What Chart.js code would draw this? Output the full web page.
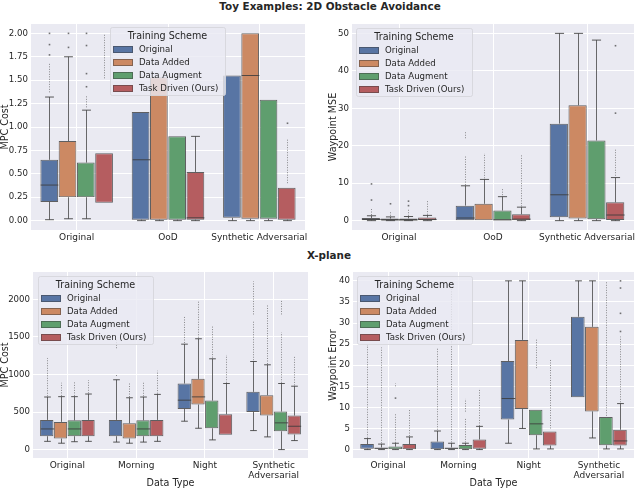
<!DOCTYPE html>
<html>
<head>
<meta charset="utf-8">
<script src="https://cdn.jsdelivr.net/npm/chart.js@4.4.1/dist/chart.umd.min.js"></script>
<style>
  html, body { margin: 0; padding: 0; background: #fff; }
  #wrap { position: relative; width: 640px; height: 489px; overflow: hidden; font-family: "DejaVu Sans", sans-serif; }
  canvas { position: absolute; }
  .ttl { position: absolute; font-weight: bold; font-size: 10.4px; color: #262626; white-space: nowrap; transform: translateX(-50%); }
</style>
</head>
<body>
<div id="wrap">
  <div class="ttl" style="left:330px;top:0px">Toy Examples: 2D Obstacle Avoidance</div>
  <div class="ttl" style="left:329px;top:249px">X-plane</div>
  <canvas id="toyMpc" width="320" height="232" style="left:0;top:14px"></canvas>
  <canvas id="toyWaypoint" width="320" height="232" style="left:320px;top:14px"></canvas>
  <canvas id="xplaneMpc" width="320" height="227" style="left:0;top:262px"></canvas>
  <canvas id="xplaneWaypoint" width="320" height="227" style="left:320px;top:262px"></canvas>
</div>
<script>
// Training schemes (hue) and categories
const schemes = ['Original', 'Data Added', 'Data Augment', 'Task Driven (Ours)'];
const toyCategories = ['Original', 'OoD', 'Synthetic Adversarial'];
const xplaneCategories = ['Original', 'Morning', 'Night', ['Synthetic', 'Adversarial']];

// Tick values
const toyMpcTicks = [0, 0.25, 0.5, 0.75, 1.0, 1.25, 1.5, 1.75, 2.0];
const toyWaypointTicks = [0, 10, 20, 30, 40, 50];
const xplaneMpcTicks = [0, 500, 1000, 1500, 2000];
const xplaneWaypointTicks = [0, 5, 10, 15, 20, 25, 30, 35, 40];

// Box stats: per scheme, per category
// [whiskerLow, q1, median, q3, whiskerHigh]
const toyMpcStats = [
  [[0.01, 0.20, 0.38, 0.65, 1.32], [0.0, 0.01, 0.65, 1.16, 1.16], [0.0, 0.03, 1.55, 1.55, 1.55]],
  [[0.02, 0.25, 0.25, 0.85, 1.75], [0.0, 0.01, 0.01, 1.53, 1.53], [0.0, 0.02, 1.55, 2.0, 2.0]],
  [[0.02, 0.25, 0.25, 0.62, 1.18], [0.0, 0.01, 0.01, 0.90, 0.90], [0.0, 0.02, 0.02, 1.29, 1.29]],
  [[0.19, 0.19, 0.19, 0.72, 0.72], [0.0, 0.01, 0.03, 0.52, 0.90], [0.0, 0.01, 0.01, 0.35, 0.35]],
];
// Outliers: [from, to] runs of dense points, or [value] single points
const toyMpcFliers = [
  [[[1.37, 1.68], [1.77], [1.88], [2.0]], [], []],
  [[[1.85], [2.0]], [], []],
  [[[1.21, 1.33], [1.43], [1.57], [1.87], [2.0]], [], []],
  [[[1.52, 2.0]], [], [[0.40, 0.88], [1.04]]],
];

const toyWaypointStats = [
  [[0, 0.1, 0.3, 0.7, 1.3], [0, 0.0, 0.7, 4.0, 9.3], [0, 0.9, 6.9, 25.9, 50]],
  [[0, 0.05, 0.2, 0.55, 1.0], [0, 0.0, 0.0, 4.5, 11.0], [0, 0.6, 0.6, 30.8, 50]],
  [[0, 0.05, 0.2, 0.6, 1.1], [0, 0.0, 0.2, 2.7, 6.4], [0, 0.4, 0.4, 21.4, 48.2]],
  [[0, 0.1, 0.3, 0.85, 1.4], [0, 0.1, 0.4, 1.7, 3.6], [0, 0.2, 1.5, 4.9, 11.5]],
];
const toyWaypointFliers = [
  [[[1.5, 3.2], [5.5], [9.8]], [[9.5, 17.5], [22, 24]], []],
  [[[1.3, 2.6], [4.5]], [[11.3, 18]], []],
  [[[1.3, 3.2], [4.0], [5.2]], [[6.8, 8.5]], []],
  [[[1.6, 5.6]], [[3.8, 17.5]], [[12, 19.3], [28.7], [46.7]]],
];

const xplaneMpcStats = [
  [[110, 178, 275, 395, 700], [100, 178, 178, 395, 930], [378, 542, 658, 880, 1404], [253, 502, 502, 769, 1173]],
  [[85, 147, 147, 369, 705], [85, 147, 147, 350, 690], [284, 600, 702, 942, 1476], [169, 453, 453, 724, 1129]],
  [[105, 178, 275, 390, 705], [100, 178, 275, 390, 700], [129, 284, 284, 653, 1209], [0, 244, 356, 507, 880]],
  [[110, 178, 178, 395, 740], [110, 178, 178, 395, 735], [196, 196, 196, 471, 880], [120, 200, 311, 453, 844]],
];
const xplaneMpcFliers = [
  [[[710, 1220]], [[980, 1000], [1350, 1480]], [[1420, 1780]], [[1190, 1720], [1800, 2240]]],
  [[[715, 890]], [[700, 890]], [[1490, 1970]], [[1140, 1930]]],
  [[[715, 910]], [[710, 910]], [[1225, 1640]], [[890, 1560], [1800, 2000]]],
  [[[750, 925]], [[745, 1050]], [[890, 1260]], [[855, 1240]]],
];

const xplaneWaypointStats = [
  [[0, 0.2, 0.2, 1.3, 2.6], [0, 0.1, 0.1, 1.9, 4.4], [1.5, 7.1, 12.1, 21.0, 40], [12.4, 12.4, 12.4, 31.5, 40]],
  [[0, 0.05, 0.05, 0.5, 1.3], [0, 0.05, 0.05, 0.5, 1.5], [5.0, 9.6, 9.6, 26, 40], [2.75, 9.05, 9.05, 29.1, 40]],
  [[0, 0.1, 0.1, 0.7, 1.5], [0, 0.1, 0.1, 1.1, 1.5], [0.15, 3.4, 6.1, 9.45, 9.45], [0.15, 1.0, 1.0, 7.7, 7.7]],
  [[0, 0.1, 0.1, 1.3, 3.0], [0, 0.2, 0.2, 2.4, 5.5], [0.15, 0.95, 0.95, 4.3, 4.3], [0.15, 0.95, 2.05, 4.7, 10.9]],
];
const xplaneWaypointFliers = [
  [[[2.8, 25]], [[4.7, 24]], [], []],
  [[[1.5, 24.2]], [[1.7, 38]], [], []],
  [[[1.6, 8.5], [12.2], [15, 15.7]], [[1.7, 7.5], [9, 12]], [[19.3, 26.4]], [[8, 40]]],
  [[[3.2, 9.7]], [[5.6, 14.5]], [[5, 21.4]], [[11.2, 26.8], [28], [32.3], [38.3], [40]]],
];

// seaborn "deep" palette, desaturated like boxplot
const schemeColors = ['#5875a4', '#cc8963', '#5f9e6e', '#b55d60'];
const FONT = '"DejaVu Sans", sans-serif';
const TEXT = '#262626';

// Draws background, whiskers, outliers, medians and the in-axes legend
const boxPlotPlugin = {
  id: 'boxPlot',
  beforeDraw(chart) {
    const { ctx, chartArea: a } = chart;
    ctx.save();
    ctx.fillStyle = '#EAEAF2';
    ctx.fillRect(a.left, a.top, a.right - a.left, a.bottom - a.top);
    ctx.restore();
  },
  beforeDatasetsDraw(chart, args, opts) {
    const { ctx, chartArea: a, scales } = chart;
    const py = v => scales.y.getPixelForValue(v);
    ctx.save();
    ctx.beginPath();
    ctx.rect(a.left, a.top, a.right - a.left, a.bottom - a.top);
    ctx.clip();
    opts.stats.forEach((series, i) => {
      const meta = chart.getDatasetMeta(i);
      series.forEach((s, j) => {
        const bar = meta.data[j];
        const x = Math.round(bar.x) + 0.5;
        // outliers
        ctx.strokeStyle = 'rgba(70,70,70,0.6)';
        ctx.fillStyle = 'rgba(70,70,70,0.75)';
        ctx.lineWidth = 1;
        (opts.fliers[i][j] || []).forEach(f => {
          if (f.length === 1) {
            ctx.fillRect(x - 0.8, py(f[0]) - 0.8, 1.6, 1.6);
          } else {
            ctx.setLineDash([1, 1.5]);
            ctx.beginPath();
            ctx.moveTo(x, py(f[0]));
            ctx.lineTo(x, py(f[1]));
            ctx.stroke();
            ctx.setLineDash([]);
          }
        });
        // whiskers
        ctx.strokeStyle = 'rgba(70,70,70,0.8)';
        ctx.beginPath();
        if (s[4] > s[3]) { ctx.moveTo(x, py(s[3])); ctx.lineTo(x, py(s[4])); }
        if (s[0] < s[1]) { ctx.moveTo(x, py(s[1])); ctx.lineTo(x, py(s[0])); }
        ctx.stroke();
      });
    });
    ctx.restore();
  },
  afterDatasetsDraw(chart, args, opts) {
    const { ctx, scales } = chart;
    const py = v => scales.y.getPixelForValue(v);
    ctx.save();
    opts.stats.forEach((series, i) => {
      const meta = chart.getDatasetMeta(i);
      series.forEach((s, j) => {
        const bar = meta.data[j];
        const x = Math.round(bar.x) + 0.5;
        const w = bar.width;
        ctx.strokeStyle = 'rgba(60,60,60,0.85)';
        ctx.lineWidth = 1;
        ctx.beginPath();
        // caps
        if (s[4] > s[3]) { ctx.moveTo(x - w / 4, py(s[4])); ctx.lineTo(x + w / 4, py(s[4])); }
        if (s[0] < s[1]) { ctx.moveTo(x - w / 4, py(s[0])); ctx.lineTo(x + w / 4, py(s[0])); }
        // median
        if (s[2] > s[1] && s[2] < s[3]) { ctx.moveTo(x - w / 2, py(s[2])); ctx.lineTo(x + w / 2, py(s[2])); }
        ctx.stroke();
      });
    });
    ctx.restore();
  },
  afterDraw(chart, args, opts) {
    const { ctx, chartArea: a } = chart;
    const L = opts.legend;
    const x0 = a.left + L.dx, y0 = a.top + L.dy;
    ctx.save();
    ctx.fillStyle = 'rgba(234,234,242,0.8)';
    ctx.strokeStyle = 'rgba(214,214,220,0.9)';
    ctx.lineWidth = 1;
    ctx.beginPath();
    ctx.roundRect(x0 + 0.5, y0 + 0.5, L.w, 68, 2);
    ctx.fill();
    ctx.stroke();
    ctx.fillStyle = TEXT;
    ctx.textBaseline = 'middle';
    ctx.textAlign = 'center';
    ctx.font = '9.6px ' + FONT;
    ctx.fillText('Training Scheme', x0 + L.w / 2, y0 + 9.5);
    ctx.textAlign = 'left';
    ctx.font = '8.6px ' + FONT;
    schemes.forEach((name, i) => {
      const cy = y0 + 22.5 + i * 13;
      ctx.fillStyle = schemeColors[i];
      ctx.fillRect(x0 + 3, cy - 3.5, 20, 7);
      ctx.strokeStyle = 'rgba(60,60,60,0.5)';
      ctx.strokeRect(x0 + 3.5, cy - 3, 19, 6);
      ctx.fillStyle = TEXT;
      ctx.fillText(name, x0 + 29, cy + 0.5);
    });
    ctx.restore();
  }
};

function makeBoxChart(id, p) {
  const ctx = document.getElementById(id).getContext('2d');
  return new Chart(ctx, {
    type: 'bar',
    data: {
      labels: p.categories,
      datasets: schemes.map((name, i) => ({
        label: name,
        data: p.stats[i].map(s => [s[1], s[3]]),
        backgroundColor: schemeColors[i],
        borderColor: 'rgba(60,60,60,0.8)',
        borderWidth: 1,
        borderSkipped: false,
        categoryPercentage: 0.8,
        barPercentage: 0.97,
      }))
    },
    options: {
      responsive: false,
      animation: false,
      devicePixelRatio: 1,
      layout: { padding: { top: p.padTop, right: p.padRight, left: 0, bottom: 0 } },
      plugins: {
        legend: { display: false },
        tooltip: { enabled: false },
        boxPlot: { stats: p.stats, fliers: p.fliers, legend: p.legend },
      },
      scales: {
        x: {
          offset: true,
          grid: { display: true, offset: false, color: '#ffffff', lineWidth: 1, drawTicks: false },
          border: { display: false },
          ticks: { font: { family: FONT, size: 9, lineHeight: 1.15 }, color: TEXT, padding: 2, maxRotation: 0, autoSkip: false },
          title: { display: !!p.xTitle, text: p.xTitle || '', font: { family: FONT, size: 9.6 }, color: TEXT, padding: { top: 0, bottom: 0 } },
          afterFit(s) { s.height = p.xHeight; }
        },
        y: {
          min: p.yMin,
          max: p.yMax,
          grid: { color: '#ffffff', lineWidth: 1, drawTicks: false },
          border: { display: false },
          ticks: { font: { family: FONT, size: 8.6 }, color: TEXT, padding: 3, callback: p.fmt },
          title: { display: true, text: p.yTitle, font: { family: FONT, size: 9.6 }, color: TEXT, padding: { top: p.yTitleShift, bottom: 0 } },
          afterBuildTicks(s) { s.ticks = p.ticks.map(v => ({ value: v })); },
          afterFit(s) { s.width = p.yWidth; }
        }
      }
    },
    plugins: [boxPlotPlugin]
  });
}

makeBoxChart('toyMpc', {
  categories: toyCategories, stats: toyMpcStats, fliers: toyMpcFliers,
  ticks: toyMpcTicks, fmt: v => Number(v).toFixed(2), yMin: -0.1, yMax: 2.1,
  yTitle: 'MPC Cost', yTitleShift: 0, yWidth: 31, xHeight: 16, padTop: 10, padRight: 15,
  legend: { dx: 79, dy: 3, w: 115 }
});
makeBoxChart('toyWaypoint', {
  categories: toyCategories, stats: toyWaypointStats, fliers: toyWaypointFliers,
  ticks: toyWaypointTicks, fmt: v => String(v), yMin: -2.5, yMax: 52.5,
  yTitle: 'Waypoint MSE', yTitleShift: 8, yWidth: 32, xHeight: 16, padTop: 10, padRight: 6,
  legend: { dx: 4, dy: 4, w: 116 }
});
makeBoxChart('xplaneMpc', {
  categories: xplaneCategories, stats: xplaneMpcStats, fliers: xplaneMpcFliers,
  ticks: xplaneMpcTicks, fmt: v => String(v), yMin: -112, yMax: 2365,
  yTitle: 'MPC Cost', yTitleShift: 0, xTitle: 'Data Type', yWidth: 33, xHeight: 31, padTop: 10, padRight: 12,
  legend: { dx: 5, dy: 4, w: 115 }
});
makeBoxChart('xplaneWaypoint', {
  categories: xplaneCategories, stats: xplaneWaypointStats, fliers: xplaneWaypointFliers,
  ticks: xplaneWaypointTicks, fmt: v => String(v), yMin: -2, yMax: 42.1,
  yTitle: 'Waypoint Error', yTitleShift: 8, xTitle: 'Data Type', yWidth: 33, xHeight: 31, padTop: 10, padRight: 6,
  legend: { dx: 4, dy: 4, w: 115 }
});
</script>
</body>
</html>
